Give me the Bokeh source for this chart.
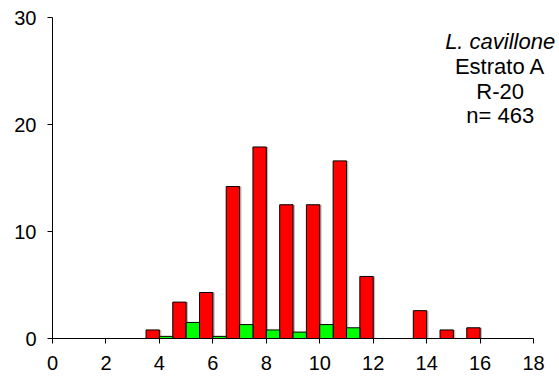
from bokeh.plotting import figure
from bokeh.models import ColumnDataSource, Label, FixedTicker
from bokeh.transform import dodge
from bokeh.embed import file_html
from bokeh.resources import INLINE

sizes = [4, 5, 6, 7, 8, 9, 10, 11, 12, 13, 14, 15, 16]
red_vals = [0.8, 3.4, 4.3, 14.2, 17.9, 12.5, 12.5, 16.6, 5.8, 0.0, 2.6, 0.8, 1.0]
green_vals = [0.2, 1.5, 0.2, 1.3, 0.8, 0.6, 1.3, 1.0, 0.0, 0.0, 0.0, 0.0, 0.0]
x_ticks = [0, 2, 4, 6, 8, 10, 12, 14, 16, 18]
y_ticks = [0, 10, 20, 30]
label_lines = ["L. cavillone", "Estrato A", "R-20", "n= 463"]

FONT = "Liberation Sans"

p = figure(width=559, height=381, x_range=(0, 18.97), y_range=(0, 30),
           output_backend="svg", toolbar_location=None,
           min_border_left=52, min_border_right=0, min_border_top=17, min_border_bottom=43)
p.outline_line_color = None
p.xgrid.visible = False
p.ygrid.visible = False

rx = [s - 0.25 for s in sizes]
gx = [s + 0.25 for s in sizes]
rsrc = ColumnDataSource(dict(x=[x for x, v in zip(rx, red_vals) if v > 0],
                             top=[v for v in red_vals if v > 0]))
gsrc = ColumnDataSource(dict(x=[x for x, v in zip(gx, green_vals) if v > 0],
                             top=[v for v in green_vals if v > 0]))

# subtle shadows (right edge) like the original spreadsheet chart
for src in (rsrc, gsrc):
    p.vbar(x=dodge("x", 0.07), top="top", width=0.5, source=src, fill_color="#8c8c8c",
           fill_alpha=0.6, line_color=None)

p.vbar(x="x", top="top", width=0.5, source=rsrc, fill_color="#ff0000", line_color="black", line_width=1)
p.vbar(x="x", top="top", width=0.5, source=gsrc, fill_color="#00ff00", line_color="black", line_width=1)

for ax in (p.xaxis[0], p.yaxis[0]):
    ax.major_label_text_font = FONT
    ax.major_label_text_font_size = "20px"
    ax.major_label_text_color = "black"
    ax.axis_line_color = "black"
    ax.major_tick_line_color = "black"
    ax.minor_tick_line_color = None
    ax.major_tick_in = 0
    ax.major_tick_out = 5

p.xaxis.bounds = (0, 18)
p.xaxis.ticker = FixedTicker(ticks=x_ticks)
p.yaxis.ticker = FixedTicker(ticks=y_ticks)
p.xaxis.major_label_standoff = 12
p.yaxis.major_label_standoff = 11

ys = [27.8, 25.4, 23.1, 20.8]
for i, (t, y) in enumerate(zip(label_lines, ys)):
    p.add_layout(Label(x=16.75, y=y, text=t, text_font=FONT, text_font_size="22px",
                       text_align="center", text_baseline="middle",
                       text_font_style="italic" if i == 0 else "normal",
                       text_color="black"))

open("out.html", "w").write(file_html(p, INLINE))
